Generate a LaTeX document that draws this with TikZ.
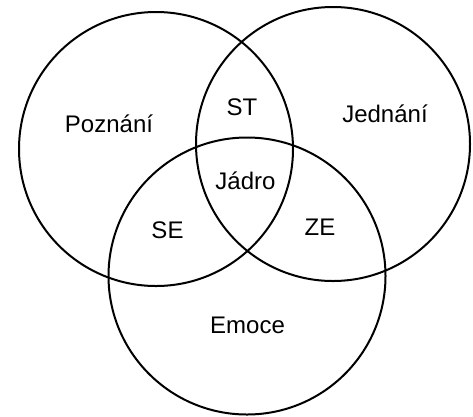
\documentclass[tikz,border=0pt]{standalone}
\usepackage{fontspec}
\setmainfont{Liberation Sans}
\begin{document}
\begin{tikzpicture}[x=1pt,y=-1pt,
  ring/.style={circle,draw=black,line width=2pt,minimum size=274pt,inner sep=0pt},
  lbl/.style={anchor=base,inner sep=0pt,font=\fontsize{24}{28}\selectfont}]
\useasboundingbox (0,0) rectangle (473,416);
\node[ring] (poznani) at (156,149) {};
\node[ring] (jednani) at (333,144) {};
\node[ring,minimum size=277pt] (emoce) at (247,276) {};
\node[lbl] (tp) at (109,132) {Poznání};
\node[lbl] (tj) at (385,122) {Jednání};
\node[lbl] (tst) at (242,115) {ST};
\node[lbl] (tja) at (245.5,189) {Jádro};
\node[lbl] (tse) at (167.5,238.5) {SE};
\node[lbl] (tze) at (320,235) {ZE};
\node[lbl] (tem) at (247.5,333.5) {Emoce};
\end{tikzpicture}
\end{document}
